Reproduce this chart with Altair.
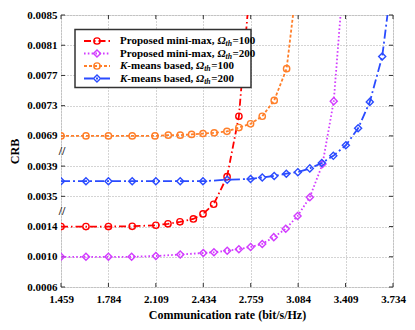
import altair as alt
import pandas as pd

# ---------------- data ----------------
x_ticks = [1.459, 1.784, 2.109, 2.434, 2.759, 3.084, 3.409, 3.734]
y_ticks = [0.0006, 0.0010, 0.0014, 0.0035, 0.0039, 0.0069, 0.0073, 0.0077, 0.0081, 0.0085]
y_breaks = [0.00245, 0.0054]

x_pm100 = [1.459, 1.630, 1.784, 1.947, 2.109, 2.192, 2.274, 2.366, 2.432, 2.505, 2.597, 2.678, 2.759]
y_pm100 = [0.00140, 0.00140, 0.00140, 0.00142, 0.00149, 0.00159, 0.00173, 0.00193, 0.00228, 0.00295, 0.00376, 0.00716, 0.00900]

x_pm200 = [1.459, 1.630, 1.784, 1.943, 2.109, 2.276, 2.434, 2.507, 2.598, 2.678, 2.758, 2.838, 2.917, 2.999,
           3.080, 3.164, 3.251, 3.328, 3.411]
y_pm200 = [0.00100, 0.00100, 0.00100, 0.00100, 0.00101, 0.00103, 0.00105, 0.00106, 0.00108, 0.00110, 0.00113,
           0.00117, 0.00126, 0.00137, 0.00213, 0.00344, 0.00410, 0.00736, 0.00940]

x_km100 = [1.459, 1.630, 1.784, 1.947, 2.103, 2.194, 2.276, 2.354, 2.432, 2.509, 2.596, 2.678, 2.758, 2.838,
           2.920, 3.005, 3.086]
y_km100 = [0.00690, 0.00690, 0.00690, 0.00690, 0.00690, 0.00691, 0.00691, 0.00692, 0.00693, 0.00694, 0.00696,
           0.00701, 0.00706, 0.00716, 0.00737, 0.00779, 0.00910]

x_km200 = [1.459, 1.630, 1.784, 1.947, 2.109, 2.276, 2.432, 2.598, 2.758, 2.838, 2.920, 3.003, 3.082, 3.164,
           3.246, 3.325, 3.411, 3.495, 3.575, 3.660, 3.742]
y_km200 = [0.00370, 0.00370, 0.00370, 0.00370, 0.00370, 0.00370, 0.00370, 0.00372, 0.00373, 0.00375, 0.00377,
           0.00380, 0.00382, 0.00387, 0.00421, 0.00492, 0.00597, 0.00700, 0.00735, 0.00795, 0.00920]

series = [
    # key, x, y, colour, dash, shape, label prefix, italic K, omega value
    ("pm100", x_pm100, y_pm100, "#ff0000", [7, 3, 1.5, 3], "circle", "Proposed mini-max, ", False, "=100"),
    ("pm200", x_pm200, y_pm200, "#d23cff", [1.6, 2.2], "diamond", "Proposed mini-max, ", False, "=200"),
    ("km100", x_km100, y_km100, "#ff7f2a", [3, 2], "circle", "-means based, ", True, "=100"),
    ("km200", x_km200, y_km200, "#2a4bff", [9, 3, 2, 3], "diamond", "-means based, ", True, "=200"),
]

# ---------------- layout ----------------
W, H = 332, 272
step = H / 9
FONT = "Liberation Serif"

y_scale = alt.Scale(domain=[0.0006, 0.0014, 0.0035, 0.0039, 0.0069, 0.0085],
                    range=[H, H - 2 * step, H - 3 * step, H - 4 * step, H - 5 * step, 0],
                    nice=False, zero=False)
x_scale = alt.Scale(domain=[1.459, 3.734], nice=False, zero=False)

x_axis = alt.Axis(values=x_ticks, format=".3f", title="Communication rate (bit/s/Hz)",
                  grid=True, gridDash=[1, 2], gridColor="#a8a8a8", gridWidth=1,
                  ticks=False, domain=False, labelFont=FONT, labelFontWeight="bold",
                  labelFontSize=11, labelColor="black", labelPadding=6, labelFlush=False,
                  labelOverlap=False, titleFont=FONT, titleFontWeight="bold", titleFontSize=12,
                  titleColor="black", titlePadding=5)
y_axis = alt.Axis(values=y_ticks, format=".4f", title="CRB",
                  grid=True, gridDash=[1, 2], gridColor="#a8a8a8", gridWidth=1,
                  ticks=False, domain=False, labelFont=FONT, labelFontWeight="bold",
                  labelFontSize=11, labelColor="black", labelPadding=4, labelFlush=False,
                  labelOverlap=False, titleFont=FONT, titleFontWeight="bold", titleFontSize=12,
                  titleColor="black", titlePadding=5)

X = lambda f: alt.X(f, type="quantitative", scale=x_scale, axis=x_axis)
Y = lambda f: alt.Y(f, type="quantitative", scale=y_scale, axis=y_axis)

layers = []

# inward ticks on all four sides
xt = pd.DataFrame({"v": x_ticks})
yt = pd.DataFrame({"v": y_ticks})
tick_style = dict(color="#333333", strokeWidth=1)
layers.append(alt.Chart(xt).mark_rule(**tick_style).encode(x=X("v"), y=alt.value(H), y2=alt.value(H - 4)))
layers.append(alt.Chart(xt).mark_rule(**tick_style).encode(x=X("v"), y=alt.value(0), y2=alt.value(4)))
layers.append(alt.Chart(yt).mark_rule(**tick_style).encode(y=Y("v"), x=alt.value(0), x2=alt.value(4)))
layers.append(alt.Chart(yt).mark_rule(**tick_style).encode(y=Y("v"), x=alt.value(W), x2=alt.value(W - 4)))

# series
for key, xs, ys, col, dash, shape, _, _, _ in series:
    df = pd.DataFrame({"x": xs, "y": ys})
    layers.append(alt.Chart(df).mark_line(color=col, strokeDash=dash, strokeWidth=1.8, clip=True)
                  .encode(x=X("x"), y=Y("y")))
    layers.append(alt.Chart(df).mark_point(color=col, shape=shape, filled=False, strokeWidth=1.4,
                                           size=40 if shape == "circle" else 50, clip=True, opacity=1)
                  .encode(x=X("x"), y=Y("y")))

# axis break marks
bk = pd.DataFrame({"v": y_breaks})
layers.append(alt.Chart(bk).mark_text(text="//", font=FONT, fontSize=12, fontWeight="bold", color="#222222")
              .encode(y=Y("v"), x=alt.value(1)))

# ---------------- manual legend ----------------
one = pd.DataFrame({"a": [0]})
layers.append(alt.Chart(one).mark_rect(fill="white", stroke="#333333", strokeWidth=1.5)
              .encode(x=alt.value(14), x2=alt.value(190), y=alt.value(14.5), y2=alt.value(72.5)))

wid_up = {"P": .611, "r": .444, "o": .5, "p": .556, "s": .389, "e": .444, "d": .556, " ": .25, "m": .833,
          "i": .278, "n": .556, "-": .333, "a": .5, "x": .5, ",": .25, "b": .556, "=": .570,
          "0": .5, "1": .5, "2": .5}


def tw(s, fs):
    return sum(wid_up.get(c, .5) for c in s) * fs


FS = 11
row_y = [26, 38.5, 51, 63.5]
for (key, xs, ys, col, dash, shape, prefix, ital_k, val), ry in zip(series, row_y):
    layers.append(alt.Chart(one).mark_rule(color=col, strokeDash=dash, strokeWidth=1.8)
                  .encode(x=alt.value(23), x2=alt.value(49), y=alt.value(ry)))
    layers.append(alt.Chart(one).mark_point(color=col, shape=shape, filled=False, strokeWidth=1.4,
                                            size=40 if shape == "circle" else 50, opacity=1)
                  .encode(x=alt.value(36), y=alt.value(ry)))
    cx = 59
    tstyle = dict(font=FONT, fontSize=FS, fontWeight="bold", color="black", align="left", baseline="middle")
    if ital_k:
        layers.append(alt.Chart(one).mark_text(text="K", fontStyle="italic", **tstyle)
                      .encode(x=alt.value(cx), y=alt.value(ry)))
        cx += 0.667 * FS
    layers.append(alt.Chart(one).mark_text(text=prefix, **tstyle).encode(x=alt.value(cx), y=alt.value(ry)))
    cx += tw(prefix, FS)
    layers.append(alt.Chart(one).mark_text(text="Ω", fontStyle="italic", **tstyle)
                  .encode(x=alt.value(cx), y=alt.value(ry)))
    cx += 0.74 * FS
    sub = dict(tstyle)
    sub["fontSize"] = FS * 0.7
    layers.append(alt.Chart(one).mark_text(text="th", fontStyle="italic", **sub)
                  .encode(x=alt.value(cx), y=alt.value(ry + 3)))
    cx += 0.834 * FS * 0.7 + 0.5
    layers.append(alt.Chart(one).mark_text(text=val, **tstyle).encode(x=alt.value(cx), y=alt.value(ry)))

chart = alt.layer(*layers).properties(
    width=W, height=H,
    autosize=alt.AutoSizeParams(type="none"),
    padding={"left": 53, "top": 7, "right": 14, "bottom": 35},
).configure_view(stroke="#3a3a3a", strokeWidth=2).configure(background="white")

chart.save("out.html", embed_options={"renderer": "svg", "actions": False})
